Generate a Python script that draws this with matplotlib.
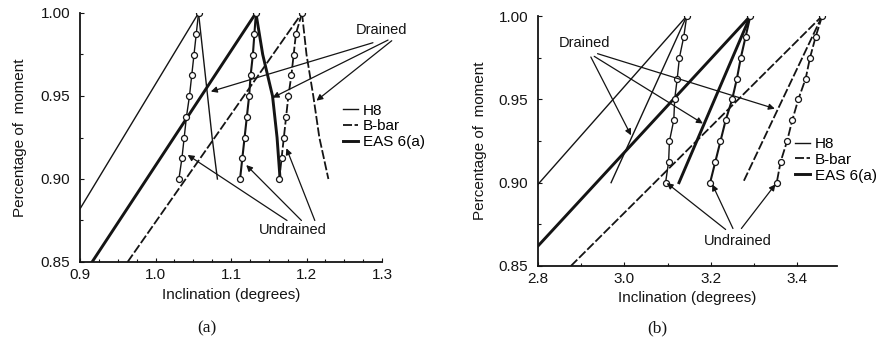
import matplotlib
matplotlib.use('Agg')
import matplotlib.pyplot as plt
from matplotlib.ticker import MultipleLocator, FormatStrFormatter
from matplotlib.lines import Line2D

plt.rcParams['font.family'] = ['Liberation Sans', 'DejaVu Sans']

# ---------------- data ----------------
series_names = ['H8', 'B-bar', 'EAS 6(a)']
undrained_y = [1.0, 0.9875, 0.975, 0.9625, 0.95, 0.9375, 0.925, 0.9125, 0.90]

# Panel (a)
a_load_h8_x = [0.900, 1.057]
a_load_h8_y = [0.882, 1.000]
a_load_bbar_x = [0.963, 1.194]
a_load_bbar_y = [0.850, 1.000]
a_load_eas_x = [0.916, 1.133]
a_load_eas_y = [0.850, 1.000]

a_drained_y = [1.0, 0.975, 0.95, 0.925, 0.90]
a_drained_h8_x = [1.057, 1.063, 1.069, 1.075, 1.082]
a_drained_bbar_x = [1.194, 1.200, 1.209, 1.217, 1.229]
a_drained_eas_x = [1.133, 1.142, 1.155, 1.161, 1.165]

a_undrained_h8_x = [1.057, 1.054, 1.051, 1.048, 1.045, 1.041, 1.038, 1.035, 1.031]
a_undrained_bbar_x = [1.194, 1.186, 1.183, 1.180, 1.176, 1.173, 1.170, 1.167, 1.164]
a_undrained_eas_x = [1.133, 1.131, 1.129, 1.126, 1.124, 1.121, 1.118, 1.115, 1.112]

# Panel (b)
b_load_h8_x = [2.800, 3.144]
b_load_h8_y = [0.899, 1.000]
b_load_bbar_x = [2.876, 3.457]
b_load_bbar_y = [0.850, 1.000]
b_load_eas_x = [2.800, 3.291]
b_load_eas_y = [0.862, 1.000]

b_drained_y = [1.0, 0.90]
b_drained_h8_x = [3.144, 2.969]
b_drained_bbar_x = [3.457, 3.274]
b_drained_eas_x = [3.291, 3.126]

b_undrained_h8_x = [3.144, 3.137, 3.127, 3.122, 3.116, 3.114, 3.104, 3.102, 3.095]
b_undrained_bbar_x = [3.457, 3.442, 3.429, 3.419, 3.402, 3.388, 3.376, 3.361, 3.352]
b_undrained_eas_x = [3.291, 3.280, 3.269, 3.260, 3.249, 3.234, 3.222, 3.210, 3.198]

x_label = 'Inclination (degrees)'
y_label = 'Percentage of  moment'

# ---------------- styles ----------------
INK = '#141414'
styles = {
    'H8': dict(lw=1.0, ls='-'),
    'B-bar': dict(lw=1.3, ls=(0, (5, 1.4))),
    'EAS 6(a)': dict(lw=2.1, ls='-'),
}

fig = plt.figure(figsize=(8.88, 3.40), dpi=100)
axA = fig.add_axes([80/888, 78/340, 302/888, 249/340])
axB = fig.add_axes([538/888, 74/340, 299/888, 250/340])


def draw_panel(ax, loads, drained, undrained, drained_y):
    for name, (lx, ly) in zip(series_names, loads):
        ax.plot(lx, ly, color=INK, **styles[name])
    for name, dx in zip(series_names, drained):
        ax.plot(dx, drained_y, color=INK, **styles[name])
    for name, ux in zip(series_names, undrained):
        st = dict(styles[name])
        st['lw'] = min(st['lw'], 1.5)
        ax.plot(ux, undrained_y, color=INK, marker='o', ms=4.3,
                mfc='white', mec=INK, mew=0.9, **st)


draw_panel(axA,
           [(a_load_h8_x, a_load_h8_y), (a_load_bbar_x, a_load_bbar_y), (a_load_eas_x, a_load_eas_y)],
           [a_drained_h8_x, a_drained_bbar_x, a_drained_eas_x],
           [a_undrained_h8_x, a_undrained_bbar_x, a_undrained_eas_x],
           a_drained_y)
draw_panel(axB,
           [(b_load_h8_x, b_load_h8_y), (b_load_bbar_x, b_load_bbar_y), (b_load_eas_x, b_load_eas_y)],
           [b_drained_h8_x, b_drained_bbar_x, b_drained_eas_x],
           [b_undrained_h8_x, b_undrained_bbar_x, b_undrained_eas_x],
           b_drained_y)

axA.set_xlim(0.9, 1.3)
axB.set_xlim(2.8, 3.4914)
for ax in (axA, axB):
    ax.set_ylim(0.85, 1.0)
    for s in ('top', 'right'):
        ax.spines[s].set_visible(False)
    for s in ('left', 'bottom'):
        ax.spines[s].set_linewidth(1.3)
        ax.spines[s].set_color(INK)
    ax.yaxis.set_major_locator(MultipleLocator(0.05))
    ax.yaxis.set_major_formatter(FormatStrFormatter('%.2f'))
    ax.yaxis.set_minor_locator(MultipleLocator(0.025))
    ax.tick_params(which='both', direction='in', color=INK, width=0.8)
    ax.tick_params(which='major', length=3, labelsize=11, labelcolor=INK)
    ax.tick_params(which='minor', length=2)
    ax.tick_params(axis='x', pad=4)
    ax.tick_params(axis='y', pad=7)
    ax.set_xlabel(x_label, fontsize=11, color=INK, va='center')
    ax.set_ylabel(y_label, fontsize=11, color=INK, va='center')

axA.xaxis.set_major_locator(MultipleLocator(0.1))
axA.xaxis.set_minor_locator(MultipleLocator(0.025))
axA.xaxis.set_major_formatter(FormatStrFormatter('%.1f'))
axB.xaxis.set_major_locator(MultipleLocator(0.2))
axB.xaxis.set_minor_locator(MultipleLocator(0.1))
axB.xaxis.set_major_formatter(FormatStrFormatter('%.1f'))

axA.xaxis.set_label_coords(0.5, -0.133)
axA.yaxis.set_label_coords(-0.199, 0.5)
axB.xaxis.set_label_coords(0.5, -0.127)
axB.yaxis.set_label_coords(-0.194, 0.5)

# legends
handles = [Line2D([], [], color=INK, **styles[n]) for n in series_names]
for ax, anchor in ((axA, (0.871, 0.636)), (axB, (0.8595, 0.516))):
    ax.legend(handles, series_names, loc='upper left', bbox_to_anchor=anchor,
              frameon=False, fontsize=11, handlelength=1.0, handletextpad=0.3,
              labelspacing=0.12, borderpad=0, borderaxespad=0)

arrow_kw = dict(arrowstyle='-|>', color=INK, lw=0.9, mutation_scale=9,
                shrinkA=0, shrinkB=0)


def arrows(ax, label, label_xy, pairs):
    ax.text(label_xy[0], label_xy[1], label, fontsize=10.5, color=INK,
            ha='center', va='center', clip_on=False)
    for tail, head in pairs:
        ax.annotate('', xy=head, xytext=tail, arrowprops=arrow_kw,
                    annotation_clip=False)


arrows(axA, 'Drained', (1.2987, 0.9898),
       [((1.288, 0.9821), (1.0733, 0.9527)),
        ((1.308, 0.9837), (1.1551, 0.9490)),
        ((1.3129, 0.9833), (1.2132, 0.9472))])
arrows(axA, 'Undrained', (1.1824, 0.8693),
       [((1.1742, 0.8750), (1.0426, 0.9145)),
        ((1.1933, 0.8750), (1.1202, 0.9084)),
        ((1.2110, 0.8750), (1.1734, 0.9185))])
arrows(axB, 'Drained', (2.9079, 0.9838),
       [((2.9222, 0.9754), (3.0151, 0.9284)),
        ((2.9300, 0.9758), (3.1812, 0.9355)),
        ((2.9377, 0.9774), (3.3476, 0.9444))])
arrows(axB, 'Undrained', (3.2625, 0.8650),
       [((3.2339, 0.8719), (3.0977, 0.8998)),
        ((3.2508, 0.8725), (3.2030, 0.8990)),
        ((3.2703, 0.8725), (3.3490, 0.8990))])

fig.text(207/888, 1 - 328/340, '(a)', fontsize=12.5, family='Liberation Serif',
         ha='center', va='center', color=INK)
fig.text(657/888, 1 - 328/340, '(b)', fontsize=12.5, family='Liberation Serif',
         ha='center', va='center', color=INK)

fig.savefig('out.png', dpi=100, facecolor='white')
